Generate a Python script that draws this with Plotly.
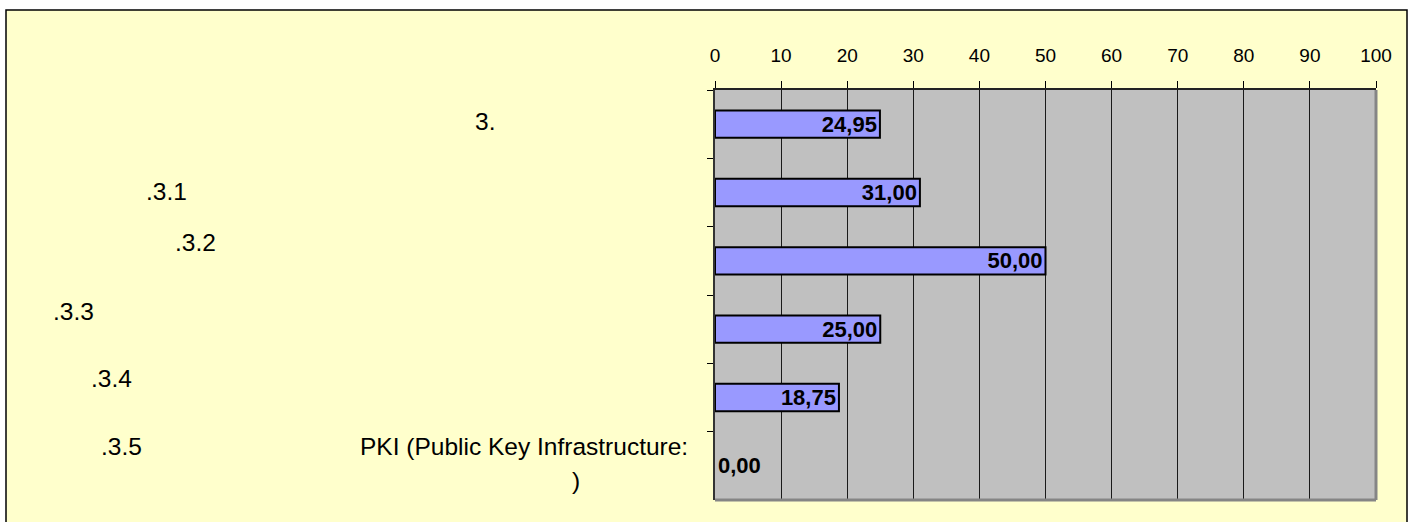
import plotly.graph_objects as go

# Chart data
categories = ["3.", ".3.1", ".3.2", ".3.3", ".3.4", ".3.5 PKI (Public Key Infrastructure: )"]
values = [24.95, 31.00, 50.00, 25.00, 18.75, 0.00]
x_ticks = [0, 10, 20, 30, 40, 50, 60, 70, 80, 90, 100]

# Category label fragments: (category index, text)
label_parts = [
    (0, "3."),
    (1, ".3.1"),
    (2, ".3.2"),
    (3, ".3.3"),
    (4, ".3.4"),
    (5, ".3.5"),
    (5, "PKI (Public Key Infrastructure:"),
    (5, ")"),
]
# Placement of each fragment: (left edge in px, vertical shift in px)
label_place = [(474, 3), (145, 1), (174, 18), (52, 18), (90, 19), (100, 19), (359, 19), (571, -15)]

W, H = 1411, 522
L, R, T, B = 715, 35, 90, 22
PW, PH = W - L - R, H - T - B


def px_to_paper_x(px):
    return (px - L) / PW


def px_to_paper_y(py):
    return (H - B - py) / PH


FONT = "Liberation Sans, Arial, sans-serif"

fig = go.Figure()
fig.add_trace(go.Bar(
    y=categories,
    x=values,
    orientation="h",
    width=0.4,
    marker=dict(color="#9999FF",
                line=dict(color="#000000", width=[2 if v > 0 else 0 for v in values])),
    texttemplate="%{x:.2f}",
    textposition=["inside" if v > 0 else "outside" for v in values],
    insidetextanchor="end",
    constraintext="none",
    textfont=dict(family=FONT, size=22, color="#000000", weight="bold"),
    cliponaxis=False,
    hoverinfo="skip",
))

annotations = []
for (ci, txt), (lx, dy) in zip(label_parts, label_place):
    annotations.append(dict(
        x=px_to_paper_x(lx), xref="paper", xanchor="left",
        y=ci, yref="y", yanchor="middle", yshift=dy,
        text=txt, showarrow=False, borderpad=0,
        font=dict(family=FONT, size=24.5, color="#000000"),
    ))

shapes = [
    # outer chart area
    dict(type="rect", xref="paper", yref="paper", layer="below",
         x0=px_to_paper_x(6), x1=px_to_paper_x(1407),
         y0=px_to_paper_y(540), y1=px_to_paper_y(10),
         fillcolor="#FFFFCC", line=dict(color="#000000", width=1.5)),
    # plot area
    dict(type="rect", xref="paper", yref="paper", layer="below",
         x0=0, x1=1, y0=0, y1=1, fillcolor="#C0C0C0", line=dict(width=0)),
    # shaded right and bottom edges of the plot area
    dict(type="line", xref="paper", yref="paper", x0=1, x1=1, y0=0, y1=1,
         line=dict(color="#858585", width=3)),
    dict(type="line", xref="paper", yref="paper", x0=0, x1=1, y0=0, y1=0,
         line=dict(color="#858585", width=3)),
]

fig.update_layout(
    width=W, height=H, autosize=False,
    margin=dict(l=L, r=R, t=T, b=B, pad=0),
    paper_bgcolor="#FFFFFF",
    plot_bgcolor="rgba(0,0,0,0)",
    separators=",.",
    showlegend=False,
    font=dict(family=FONT, color="#000000"),
    annotations=annotations,
    shapes=shapes,
    xaxis=dict(
        side="top", range=[0, 100], tickvals=x_ticks, ticktext=[str(t) for t in x_ticks],
        showgrid=True, gridcolor="#1a1a1a", gridwidth=1, zeroline=False,
        showline=True, linecolor="#222222", linewidth=2,
        ticks="outside", ticklen=7, tickcolor="#000000", tickwidth=1,
        ticklabelstandoff=11,
        tickfont=dict(family=FONT, size=19, color="#000000"),
        fixedrange=True,
    ),
    yaxis=dict(
        autorange="reversed", showticklabels=False, showgrid=False, zeroline=False,
        showline=True, linecolor="#333333", linewidth=2,
        ticks="outside", tickson="boundaries", ticklen=6, tickcolor="#000000", tickwidth=1,
        fixedrange=True,
    ),
)

fig.write_html("out.html")
